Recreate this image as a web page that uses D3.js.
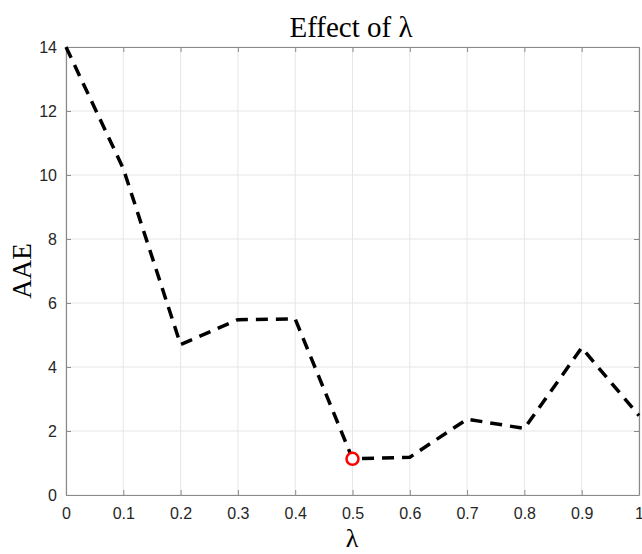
<!DOCTYPE html>
<html><head><meta charset="utf-8">
<script src="https://cdn.jsdelivr.net/npm/d3@7"></script>
<style>body{margin:0;background:#fff}</style>
</head><body>
<script>
const lambdas = [0, 0.1, 0.2, 0.3, 0.4, 0.5, 0.6, 0.7, 0.8, 0.9, 1.0];
const aae = [14, 10.2, 4.7, 5.48, 5.5, 1.13, 1.18, 2.37, 2.08, 4.6, 2.48];
const xTicks = [0, 0.1, 0.2, 0.3, 0.4, 0.5, 0.6, 0.7, 0.8, 0.9, 1];
const yTicks = [0, 2, 4, 6, 8, 10, 12, 14];
const bestLambda = [0.5];
const bestAAE = [1.13];

const W = 642, H = 554;
const m = {left: 66, right: 3, top: 47, bottom: 59};
const svg = d3.select("body").append("svg").attr("width", W).attr("height", H);
const x = d3.scaleLinear().domain([0, 1]).range([m.left, W - m.right]);
const y = d3.scaleLinear().domain([0, 14]).range([H - m.bottom, m.top]);

// grid
svg.append("g").selectAll("line.gx").data(xTicks).join("line")
  .attr("x1", d => x(d)).attr("x2", d => x(d)).attr("y1", y(0)).attr("y2", y(14))
  .attr("stroke", "#e6e6e6").attr("stroke-width", 1);
svg.append("g").selectAll("line.gy").data(yTicks).join("line")
  .attr("y1", d => y(d)).attr("y2", d => y(d)).attr("x1", x(0)).attr("x2", x(1))
  .attr("stroke", "#e6e6e6").attr("stroke-width", 1);

const tickStyle = g => {
  g.select(".domain").attr("stroke", "#8a8a8a").attr("stroke-width", 1.2);
  g.selectAll(".tick line").attr("stroke", "#8a8a8a");
  g.selectAll(".tick text").attr("fill", "#262626").attr("font-family", "Liberation Sans, Arial, sans-serif").attr("font-size", 16);
};

svg.append("g").attr("transform", `translate(0,${y(0)})`)
  .call(d3.axisBottom(x).tickValues(xTicks).tickFormat(d3.format("~g")).tickSizeInner(-5).tickSizeOuter(0).tickPadding(13))
  .call(tickStyle);
svg.append("g").attr("transform", `translate(0,${y(14)})`)
  .call(d3.axisTop(x).tickValues(xTicks).tickFormat("").tickSizeInner(-5).tickSizeOuter(0))
  .call(tickStyle);
svg.append("g").attr("transform", `translate(${x(0)},0)`)
  .call(d3.axisLeft(y).tickValues(yTicks).tickSizeInner(-5).tickSizeOuter(0).tickPadding(9))
  .call(tickStyle);
svg.append("g").attr("transform", `translate(${x(1)},0)`)
  .call(d3.axisRight(y).tickValues(yTicks).tickFormat("").tickSizeInner(-5).tickSizeOuter(0))
  .call(tickStyle);

// line
const pts = lambdas.map((l, i) => [l, aae[i]]);
svg.append("path").datum(pts)
  .attr("d", d3.line().x(d => x(d[0])).y(d => y(d[1])))
  .attr("fill", "none").attr("stroke", "#000").attr("stroke-width", 3.5)
  .attr("stroke-dasharray", "12,8");

// best point
svg.selectAll("circle.best").data(bestLambda.map((l, i) => [l, bestAAE[i]])).join("circle")
  .attr("cx", d => x(d[0])).attr("cy", d => y(d[1])).attr("r", 6)
  .attr("fill", "#fff").attr("stroke", "#ff0000").attr("stroke-width", 2.5);

// title & labels
svg.append("text").attr("x", 351).attr("y", 37).attr("text-anchor", "middle")
  .attr("font-family", "Liberation Serif, Times New Roman, serif").attr("font-size", 29).attr("fill", "#000")
  .text("Effect of λ");
svg.append("text").attr("x", 352).attr("y", 547).attr("text-anchor", "middle")
  .attr("font-family", "Liberation Serif, Times New Roman, serif").attr("font-size", 26).attr("fill", "#000")
  .text("λ");
svg.append("text").attr("transform", `translate(31,${(y(0) + y(14)) / 2}) rotate(-90)`).attr("text-anchor", "middle")
  .attr("font-family", "Liberation Serif, Times New Roman, serif").attr("font-size", 27).attr("fill", "#000")
  .text("AAE");
</script>
</body></html>
